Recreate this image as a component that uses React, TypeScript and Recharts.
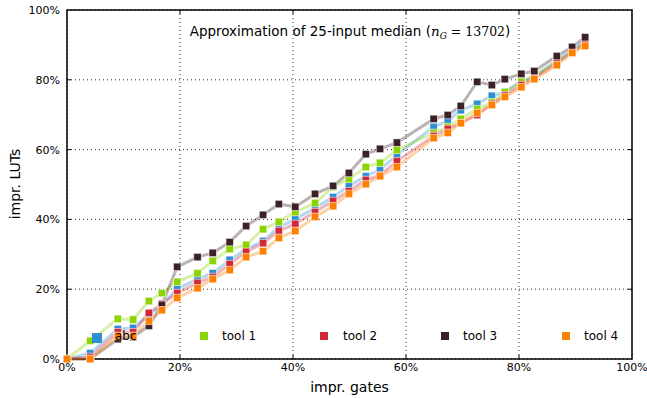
import React from 'react';
import {
  LineChart, Line, XAxis, YAxis, CartesianGrid, ReferenceLine, ReferenceArea,
} from 'recharts';

// impr. gates (%) shared by all series
const xs = [0, 4.1, 9.0, 11.7, 14.5, 16.8, 19.5, 23.1, 25.8, 28.8, 31.7, 34.7, 37.5, 40.4, 43.9, 47.1, 49.9, 52.9, 55.4, 58.4, 64.9, 67.4, 69.7, 72.6, 75.2, 77.5, 80.4, 82.7, 86.7, 89.4, 91.7];

// impr. LUTs (%)
const abc = [0, 1.7, 8.6, 8.9, 12.6, 15.5, 20.1, 22.9, 24.6, 28.4, 31.5, 33.8, 37.8, 40.1, 43.3, 46.4, 49.6, 52.4, 54.2, 58.5, 66.5, 68.2, 71.3, 73.1, 75.4, 76.5, 79.7, 80.8, 85.7, 88.5, 91.1];
const tool1 = [0, 5.2, 11.5, 11.3, 16.6, 18.9, 22.1, 24.6, 28.1, 31.5, 32.7, 37.2, 39.3, 42.1, 44.7, 49.3, 51.6, 55.0, 56.2, 59.9, 64.8, 66.5, 68.8, 71.6, 73.6, 76.5, 79.4, 81.1, 85.1, 88.0, 90.8];
const tool2 = [0, 0.6, 7.7, 7.7, 13.2, 15.8, 18.9, 21.8, 23.5, 27.2, 30.7, 33.2, 36.7, 38.7, 42.1, 45.3, 48.1, 51.3, 52.7, 56.7, 63.9, 65.9, 67.6, 69.9, 73.1, 75.6, 78.5, 80.5, 84.8, 88.0, 90.5];
const tool3 = [0, 0, 5.7, 6.3, 9.5, 15.5, 26.4, 29.2, 30.4, 33.5, 38.1, 41.3, 44.4, 43.6, 47.3, 49.6, 53.3, 58.7, 60.2, 62.0, 68.8, 69.9, 72.5, 79.4, 78.5, 80.2, 81.7, 82.5, 86.8, 89.4, 92.2];
const tool4 = [0, 0, 6.6, 6.6, 10.9, 14.0, 17.5, 20.3, 22.9, 25.5, 29.2, 30.9, 34.7, 36.7, 40.7, 43.8, 47.3, 50.1, 52.4, 55.0, 63.3, 64.8, 67.6, 70.5, 72.8, 75.1, 77.9, 80.2, 84.2, 87.7, 89.7];

const ticks = [0, 20, 40, 60, 80, 100];
const innerTicks = [20, 40, 60, 80];

const seriesNames = ['abc', 'tool 1', 'tool 2', 'tool 3', 'tool 4'];
const seriesKeys = ['abc', 'tool1', 'tool2', 'tool3', 'tool4'];
const seriesValues = [abc, tool1, tool2, tool3, tool4];
const colors = ['#2e8fd2', '#8cd400', '#d3283a', '#3c2126', '#ff7f00'];

const data = xs.map((x, i) => {
  const row: Record<string, number> = { x };
  seriesKeys.forEach((k, j) => { row[k] = seriesValues[j][i]; });
  return row;
});

const FONT = 'DejaVu Sans';

const squareDot = (color: string, size: number) => (props: any) => {
  const { cx, cy, index } = props;
  if (cx == null || cy == null) return <g key={index} />;
  return (
    <rect
      key={index}
      x={cx - size / 2}
      y={cy - size / 2}
      width={size}
      height={size}
      fill={color}
      stroke="#ffffff"
      strokeOpacity={0.7}
      strokeWidth={0.8}
    />
  );
};

const legendPos = [
  { mx: 97, my: 338, ms: 10, tx: 115 },
  { mx: 204, my: 336, ms: 8, tx: 222 },
  { mx: 324, my: 336, ms: 8, tx: 343 },
  { mx: 445, my: 336, ms: 8, tx: 463 },
  { mx: 566, my: 336, ms: 8, tx: 584 },
];

const Overlay = () => (
  <svg
    width={647}
    height={398}
    style={{ position: 'absolute', left: 0, top: 0, pointerEvents: 'none' }}
  >
    <g fontFamily={FONT}>
      <text x={350} y={36} textAnchor="middle" fontSize={13.5} fill="#000">
        Approximation of 25-input median (
        <tspan fontFamily="DejaVu Serif" fontStyle="italic">n</tspan>
        <tspan fontFamily="DejaVu Serif" fontStyle="italic" fontSize={9} dy={3}>G</tspan>
        <tspan fontFamily="DejaVu Serif" fontSize={12.5} dy={-3}>{' = 13702'}</tspan>
        )
      </text>
      <text x={20} y={184} transform="rotate(-90 20 184)" textAnchor="middle" fontSize={14} fill="#000">
        impr. LUTs
      </text>
      {legendPos.map((p, i) => (
        <g key={i}>
          <rect x={p.mx - p.ms / 2} y={p.my - p.ms / 2} width={p.ms} height={p.ms} fill={colors[i]} />
          <text x={p.tx} y={340} fontSize={12} fill="#000">{seriesNames[i]}</text>
        </g>
      ))}
    </g>
  </svg>
);

export default function App() {
  return (
    <div style={{ position: 'absolute', left: 0, top: 0, width: 647, height: 398 }}>
      <LineChart
        width={647}
        height={398}
        data={data}
        margin={{ top: 10, right: 15, bottom: 0, left: 0 }}
        style={{ fontFamily: FONT }}
      >
        <CartesianGrid stroke="#333" strokeDasharray="1 3" strokeWidth={1} />
        <XAxis
          dataKey="x"
          type="number"
          domain={[0, 100]}
          ticks={ticks}
          tickFormatter={(v) => `${v}%`}
          height={39}
          axisLine={false}
          tickLine={false}
          tickSize={4}
          tickMargin={0}
          interval={0}
          tick={{ fontSize: 11, fill: '#000', fontFamily: FONT }}
          label={{ value: 'impr. gates', position: 'insideBottom', offset: 6, fontSize: 14, fill: '#000', fontFamily: FONT }}
        />
        <YAxis
          type="number"
          domain={[0, 100]}
          ticks={ticks}
          tickFormatter={(v) => `${v}%`}
          width={67}
          axisLine={false}
          tickLine={false}
          tickSize={6}
          tickMargin={1}
          interval={0}
          tick={{ fontSize: 11, fill: '#000', fontFamily: FONT }}
        />
        {innerTicks.map((t) => (
          <ReferenceLine key={`b${t}`} segment={[{ x: t, y: 0 }, { x: t, y: 1.2 }]} stroke="#000" strokeWidth={1} />
        ))}
        {innerTicks.map((t) => (
          <ReferenceLine key={`t${t}`} segment={[{ x: t, y: 100 }, { x: t, y: 98.8 }]} stroke="#000" strokeWidth={1} />
        ))}
        {innerTicks.map((t) => (
          <ReferenceLine key={`l${t}`} segment={[{ x: 0, y: t }, { x: 0.75, y: t }]} stroke="#000" strokeWidth={1} />
        ))}
        {innerTicks.map((t) => (
          <ReferenceLine key={`r${t}`} segment={[{ x: 100, y: t }, { x: 99.25, y: t }]} stroke="#000" strokeWidth={1} />
        ))}
        {seriesKeys.map((k, i) => (
          <Line
            key={k}
            dataKey={k}
            type="linear"
            stroke={colors[i]}
            strokeOpacity={0.35}
            strokeWidth={3}
            dot={squareDot(colors[i], 7.5)}
            activeDot={false}
            isAnimationActive={false}
          />
        ))}
        <ReferenceArea x1={0} x2={100} y1={0} y2={100} fill="none" stroke="#000" strokeWidth={1.5} ifOverflow="visible" />
      </LineChart>
      <Overlay />
    </div>
  );
}
